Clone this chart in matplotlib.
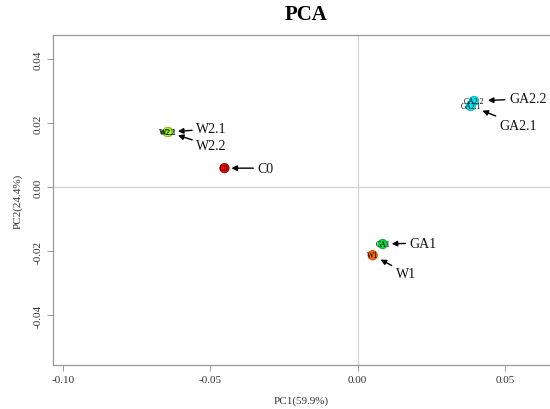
import matplotlib
matplotlib.use("Agg")
import matplotlib.pyplot as plt

samples = ["C0", "W2.1", "W2.2", "GA2.2", "GA2.1", "GA1", "W1"]
pc1 = [-0.0452, -0.0643, -0.0646, 0.0395, 0.0384, 0.0085, 0.0051]
pc2 = [0.0059, 0.0172, 0.0172, 0.0269, 0.0253, -0.0178, -0.0213]
colors = ["#FF0000", "#ADFF2F", "#ADFF2F", "#00E5EE", "#00E5EE", "#00E040", "#FF6A00"]
edges = ["#8B0000", "#7FBF00", "#7FBF00", "#00B0C0", "#00B0C0", "#00A030", "#C04000"]
# label offsets (pixels) for the annotated names
text_off = [(33, 0), (28, 3), (29, -14), (35, 2), (29, -19), (27, 1), (23, -18)]
arrow_shrinkB = [5, 7, 8, 10, 9, 6.5, 6.5]

xticks = [-0.10, -0.05, 0.00, 0.05]
yticks = [-0.04, -0.02, 0.00, 0.02, 0.04]

plt.rcParams['font.family'] = ['Liberation Serif', 'DejaVu Serif']

fig = plt.figure(figsize=(5.5, 4.1), dpi=100)
ax = fig.add_axes([53/550, 1-366/410, 1-53/550, 330/410])

ax.axvline(0, color="#d0d0d0", lw=0.8, zorder=0)
ax.axhline(0, color="#d0d0d0", lw=0.8, zorder=0)

ax.scatter(pc1, pc2, s=45, c=colors, edgecolors=edges, linewidths=0.6, zorder=3)

for i, name in enumerate(samples):
    ax.text(pc1[i], pc2[i], name, fontsize=5.5, ha="center", va="center",
            color="black", zorder=4)
    ax.annotate(name, xy=(pc1[i], pc2[i]), xytext=text_off[i],
                textcoords="offset pixels", fontsize=10, ha="left", va="center",
                color="#111111",
                arrowprops=dict(arrowstyle="-|>", color="black", lw=1.0,
                                mutation_scale=8, shrinkA=1,
                                shrinkB=arrow_shrinkB[i]))

ax.set_xlim(-0.1034, 0.0653)
ax.set_ylim(-0.0556, 0.0475)
ax.set_xticks(xticks)
ax.set_xticklabels([f"{v:.2f}" for v in xticks])
ax.set_yticks(yticks)
ax.set_yticklabels([f"{v:.2f}" for v in yticks], rotation=90, va="center")

for s in ["left", "bottom", "top"]:
    ax.spines[s].set_color("#999999")
    ax.spines[s].set_linewidth(0.9)
ax.spines["right"].set_visible(False)
ax.tick_params(axis="both", colors="#333333", labelsize=8, length=4, width=0.7)
ax.tick_params(axis="both", color="#999999")

ax.set_xlabel("PC1(59.9%)", fontsize=8, color="#333333", labelpad=8)
ax.set_ylabel("PC2(24.4%)", fontsize=8, color="#333333", labelpad=8)
fig.text(306/550, 1-15/410, "PCA", fontsize=15, fontweight="bold",
         ha="center", va="center")

fig.savefig("out.png", dpi=100)
